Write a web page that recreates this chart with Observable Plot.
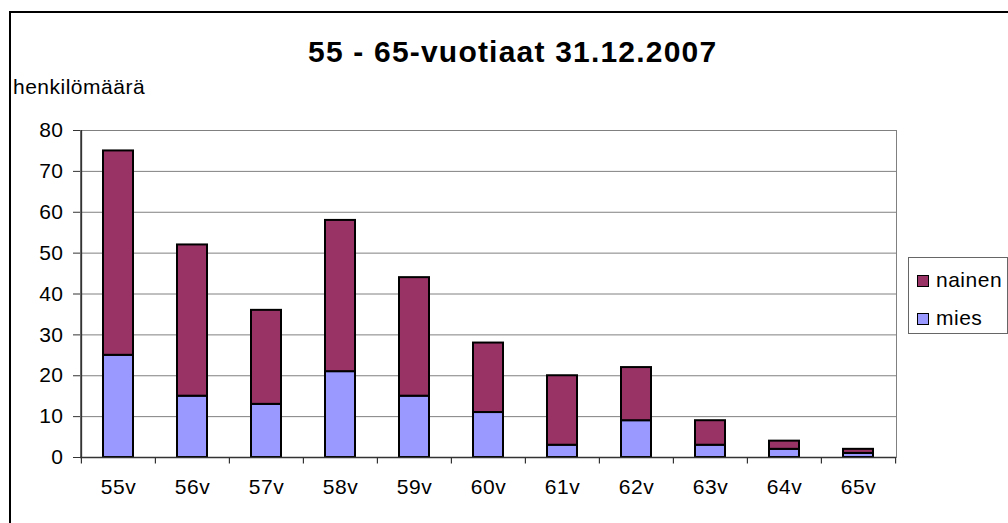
<!DOCTYPE html>
<html>
<head>
<meta charset="utf-8">
<script src="https://cdn.jsdelivr.net/npm/d3@7"></script>
<script src="https://cdn.jsdelivr.net/npm/@observablehq/plot@0.6"></script>
<style>
  html, body { margin: 0; padding: 0; background: #fff; overflow: hidden; }
  #page { position: relative; width: 1008px; height: 523px; overflow: hidden; background: #fff;
          font-family: "Liberation Sans", Arial, sans-serif; color: #000; }
  #chart { position: absolute; left: 0; top: 0; }
  #frame { position: absolute; left: 9px; top: 11px; width: 1100px; height: 600px;
           border: 2px solid #000; pointer-events: none; }
  #title { position: absolute; left: 308px; top: 35px; font-size: 30px; font-weight: bold;
           letter-spacing: 1.2px; white-space: nowrap; line-height: 34px; }
  #ylabel { position: absolute; left: 13px; top: 75px; font-size: 21px; letter-spacing: 0.5px;
            white-space: nowrap; line-height: 24px; }
  #legend { position: absolute; left: 908px; top: 257px; width: 98px; height: 75px;
            border: 1px solid #666; background: #fff; }
  .item { position: absolute; left: 8px; font-size: 21px; letter-spacing: 0.5px; line-height: 24px;
          white-space: nowrap; }
  .sw { display: inline-block; width: 10px; height: 10px; border: 1.5px solid #000;
        margin-right: 7px; vertical-align: 0px; }
</style>
</head>
<body>
<div id="page">
  <div id="chart"></div>
  <div id="title">55 - 65-vuotiaat 31.12.2007</div>
  <div id="ylabel">henkilömäärä</div>
  <div id="legend"></div>
  <div id="frame"></div>
</div>
<script>
const ages = ["55v","56v","57v","58v","59v","60v","61v","62v","63v","64v","65v"];
const mies = [25, 15, 13, 21, 15, 11, 3, 9, 3, 2, 1];
const nainen = [50, 37, 23, 37, 29, 17, 17, 13, 6, 2, 1];
const yTicks = [0, 10, 20, 30, 40, 50, 60, 70, 80];
const seriesNames = ["nainen", "mies"];
const seriesColors = ["#993366", "#9999FF"];

const data = [];
ages.forEach((a, i) => {
  data.push({age: a, sex: "mies", value: mies[i]});
  data.push({age: a, sex: "nainen", value: nainen[i]});
});

const W = 1008, H = 523;
const mL = 80, mR = 112, mT = 130, mB = 66;
const step = (W - mL - mR) / ages.length;

const tickSym = { draw(ctx) { ctx.moveTo(0, 0); ctx.lineTo(0, 6); } };

const chart = Plot.plot({
  width: W,
  height: H,
  marginLeft: mL,
  marginRight: mR,
  marginTop: mT,
  marginBottom: mB,
  style: { background: "transparent", fontSize: "21px", fontFamily: "'Liberation Sans', Arial, sans-serif", letterSpacing: "0.5px", color: "#000" },
  x: { domain: ages, paddingInner: 0.6, paddingOuter: 0.3, label: null },
  y: { domain: [0, 80], label: null },
  color: { domain: seriesNames, range: seriesColors },
  marks: [
    Plot.gridY(yTicks, { stroke: "#808080", strokeOpacity: 1, strokeWidth: 1 }),
    Plot.frame({ stroke: "#808080", strokeWidth: 1 }),
    Plot.barY(data, { x: "age", y: "value", fill: "sex", stroke: "#000", strokeWidth: 2 }),
    Plot.ruleY([0], { stroke: "#333", strokeWidth: 1.5 }),
    Plot.ruleX([ages[0]], { dx: -step / 2, stroke: "#333", strokeWidth: 1.5 }),
    Plot.axisY({ ticks: yTicks, tickSize: 7, tickPadding: 10, stroke: "#333", fill: "#000", label: null }),
    Plot.axisX({ tickSize: 0, tickPadding: 22, fill: "#000", label: null }),
    Plot.dot(ages, { x: d => d, y: () => 0, symbol: tickSym, stroke: "#333", strokeWidth: 1.2, dx: -step / 2 }),
    Plot.dot([ages[ages.length - 1]], { x: d => d, y: () => 0, symbol: tickSym, stroke: "#333", strokeWidth: 1.2, dx: step / 2 })
  ]
});
document.getElementById("chart").appendChild(chart);

const legend = document.getElementById("legend");
seriesNames.forEach((name, i) => {
  const item = document.createElement("div");
  item.className = "item";
  item.style.top = (10 + i * 38) + "px";
  const sw = document.createElement("span");
  sw.className = "sw";
  sw.style.background = seriesColors[i];
  item.appendChild(sw);
  item.appendChild(document.createTextNode(name));
  legend.appendChild(item);
});
</script>
</body>
</html>
